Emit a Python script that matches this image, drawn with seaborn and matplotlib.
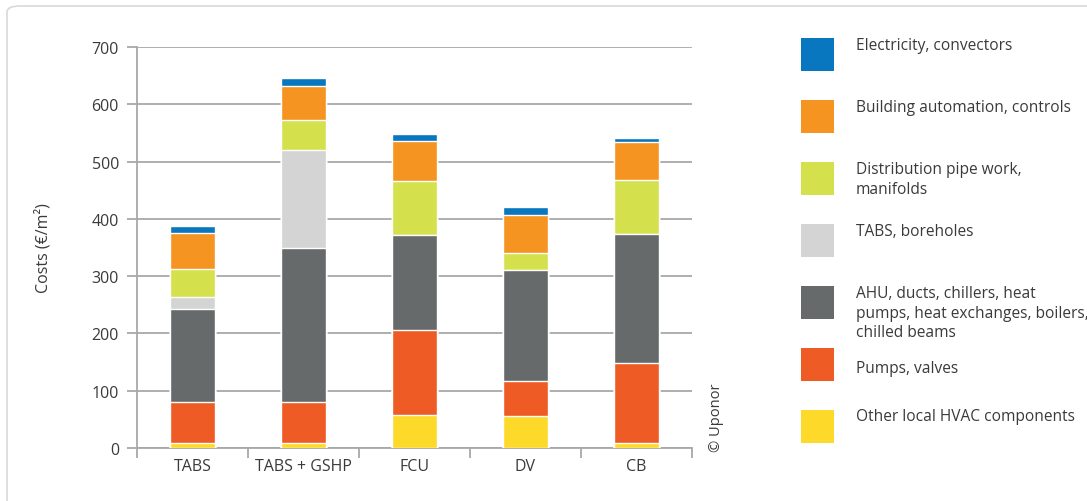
import numpy as np
import matplotlib
matplotlib.use("Agg")
import matplotlib.pyplot as plt
import pandas as pd
import seaborn as sns
from matplotlib.patches import Rectangle, FancyBboxPatch
from matplotlib.ticker import FixedLocator, NullFormatter

W, H = 1087, 502

systems = ["TABS", "TABS + GSHP", "FCU", "DV", "CB"]

# cost components in €/m², bottom to top
other_local = [9, 9, 58, 55, 9]
pumps_valves = [71, 71, 147, 61, 140]
ahu = [162, 269, 166, 195, 224]
tabs_boreholes = [21, 172, 0, 0, 0]
distribution = [50, 51, 96, 30, 95]
automation = [62, 61, 69, 66, 67]
electricity = [12, 13, 12, 14, 7]

components = [
    "Other local HVAC components",
    "Pumps, valves",
    "AHU, ducts, chillers, heat\npumps, heat exchanges, boilers,\nchilled beams",
    "TABS, boreholes",
    "Distribution pipe work,\nmanifolds",
    "Building automation, controls",
    "Electricity, convectors",
]
colors = ["#FDDA2A", "#EF5B24", "#676A6A", "#D3D4D3", "#D5E04D", "#F69422", "#0877BF"]

GRID = "#a8a8a8"
TEXT = "#3a3a3a"


def px(x, y):
    return x / W, 1 - y / H


sns.set_theme(style="white")
plt.rcParams["font.family"] = ["Open Sans", "DejaVu Sans"]

df = pd.DataFrame({
    "system": systems,
    "s0": other_local, "s1": pumps_valves, "s2": ahu, "s3": tabs_boreholes,
    "s4": distribution, "s5": automation, "s6": electricity,
})
layer_cols = ["s0", "s1", "s2", "s3", "s4", "s5", "s6"]
cum = df[layer_cols].cumsum(axis=1)

fig = plt.figure(figsize=(W / 100, H / 100), dpi=100)
fig.patch.set_facecolor("white")

# outer rounded frame
frame = FancyBboxPatch(px(7, 530), 1100 / W, 523 / H,
                       boxstyle="round,pad=0,rounding_size=0.012",
                       transform=fig.transFigure, facecolor="none",
                       edgecolor="#d9d9d9", linewidth=1.2)
fig.patches.append(frame)

x0, y0 = px(137, 448.8)
ax = fig.add_axes([x0, y0, (692 - 137) / W, (448.8 - 48.2) / H])

# stacked bars: draw cumulative totals from top layer down
for i in reversed(range(len(layer_cols))):
    sns.barplot(x=df["system"], y=cum.iloc[:, i], color=colors[i],
                width=0.4, saturation=1, ax=ax, zorder=3)

ax.set_xlim(-0.5, len(systems) - 0.5)
ax.set_ylim(0, 700)
ax.set_yticks(np.arange(0, 701, 100))
ax.yaxis.grid(True, color=GRID, linewidth=1.3, zorder=0)
ax.set_axisbelow(True)

for s in ["top", "right"]:
    ax.spines[s].set_visible(False)
for s in ["left", "bottom"]:
    ax.spines[s].set_color(GRID)
    ax.spines[s].set_linewidth(1.3)

ax.tick_params(axis="y", left=True, length=7, width=1.3, color=GRID,
               labelsize=11.5, labelcolor=TEXT, pad=6)
ax.xaxis.set_major_locator(FixedLocator(np.arange(-0.5, len(systems), 1.0)))
ax.xaxis.set_major_formatter(NullFormatter())
ax.set_xticks(np.arange(len(systems)), labels=systems, minor=True)
ax.tick_params(axis="x", which="major", bottom=True, length=7, width=1.3, color=GRID)
ax.tick_params(axis="x", which="minor", bottom=False, length=0,
               labelsize=11.5, labelcolor=TEXT, pad=7)
ax.set_xlabel("")
ax.set_ylabel("Costs (€/m²)", fontsize=11.5, color=TEXT)
ax.yaxis.set_label_coords(*px(51, 248), transform=fig.transFigure)

fig.text(*px(716, 452), "© Uponor", rotation=90, ha="center", va="bottom",
         fontsize=10.5, color=TEXT)

# legend, top entry first
leg_tops = [39, 101, 163, 225, 287, 349, 411]
text_tops = [38, 100, 162, 224, 286, 361, 409]
for k, j in enumerate(reversed(range(len(components)))):
    top = leg_tops[k]
    fig.patches.append(Rectangle(px(801, top + 33), 33 / W, 33 / H,
                                 transform=fig.transFigure,
                                 facecolor=colors[j], edgecolor="none"))
    fig.text(*px(856, text_tops[k]), components[j], ha="left", va="top",
             fontsize=11.2, color=TEXT, linespacing=1.3)

fig.savefig("out.png", dpi=100, facecolor="white")
